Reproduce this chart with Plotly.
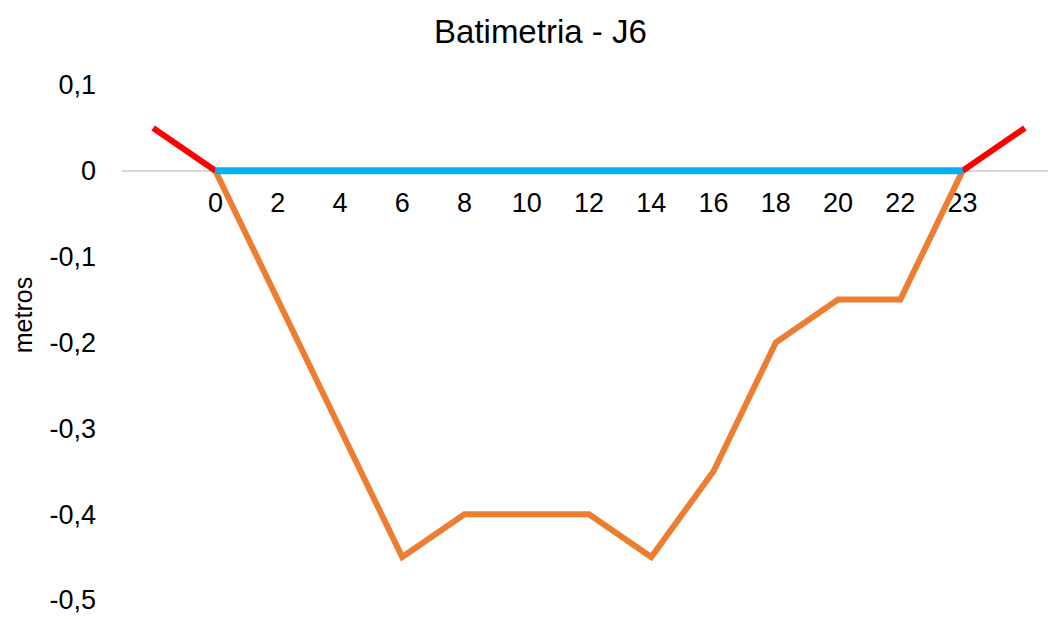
import plotly.graph_objects as go

categories = ["", "0", "2", "4", "6", "8", "10", "12", "14", "16", "18", "20", "22", "23", ""]
bathymetry = [None, 0, -0.15, -0.3, -0.45, -0.4, -0.4, -0.4, -0.45, -0.35, -0.2, -0.15, -0.15, 0, None]
water = [None, 0, 0, 0, 0, 0, 0, 0, 0, 0, 0, 0, 0, 0, None]
banks_left = [0.05, 0, None, None, None, None, None, None, None, None, None, None, None, None, None]
banks_right = [None, None, None, None, None, None, None, None, None, None, None, None, None, 0, 0.05]
y_ticks = [0.1, 0, -0.1, -0.2, -0.3, -0.4, -0.5]
y_labels = ["0,1", "0", "-0,1", "-0,2", "-0,3", "-0,4", "-0,5"]

x = list(range(len(categories)))
tickvals = [i for i, c in enumerate(categories) if c != ""]
ticktext = [c for c in categories if c != ""]

fig = go.Figure()
fig.add_trace(go.Scatter(x=x, y=bathymetry, mode="lines",
                         line=dict(color="#ED7D31", width=6), connectgaps=False))
fig.add_trace(go.Scatter(x=x, y=banks_left, mode="lines",
                         line=dict(color="#FF0000", width=6)))
fig.add_trace(go.Scatter(x=x, y=banks_right, mode="lines",
                         line=dict(color="#FF0000", width=6)))
fig.add_trace(go.Scatter(x=x, y=water, mode="lines",
                         line=dict(color="#00B0F0", width=7)))

ymin, ymax = -0.5, 0.1
fig.update_layout(
    width=1048, height=611,
    margin=dict(l=114, r=0, t=77, b=19),
    paper_bgcolor="white", plot_bgcolor="white",
    showlegend=False,
    font=dict(family="Liberation Sans, Arial", color="#000000"),
    title=dict(text="Batimetria - J6", x=0.508, xanchor="center", y=0.962, yanchor="middle",
               font=dict(size=33, color="#000000")),
    xaxis=dict(range=[-0.5, len(categories) - 0.5], tickmode="array", tickvals=tickvals,
               ticktext=ticktext, showgrid=False, zeroline=False,
               showline=True, linecolor="#D9D9D9", linewidth=1.5, layer="below traces",
               anchor="free", position=(0 - ymin) / (ymax - ymin),
               ticks="", ticklabelstandoff=8,
               tickfont=dict(size=27, color="#000000")),
    yaxis=dict(range=[ymin, ymax], tickmode="array", tickvals=y_ticks, ticktext=y_labels,
               showgrid=False, zeroline=False, showline=False, ticks="",
               ticklabelstandoff=25,
               tickfont=dict(size=27, color="#000000")),
    annotations=[dict(text="metros", textangle=-90, xref="paper", yref="paper",
                      x=-0.106, y=0.553, xanchor="center", yanchor="middle",
                      showarrow=False, font=dict(size=25, color="#000000"))],
)

fig.write_html("out.html")
